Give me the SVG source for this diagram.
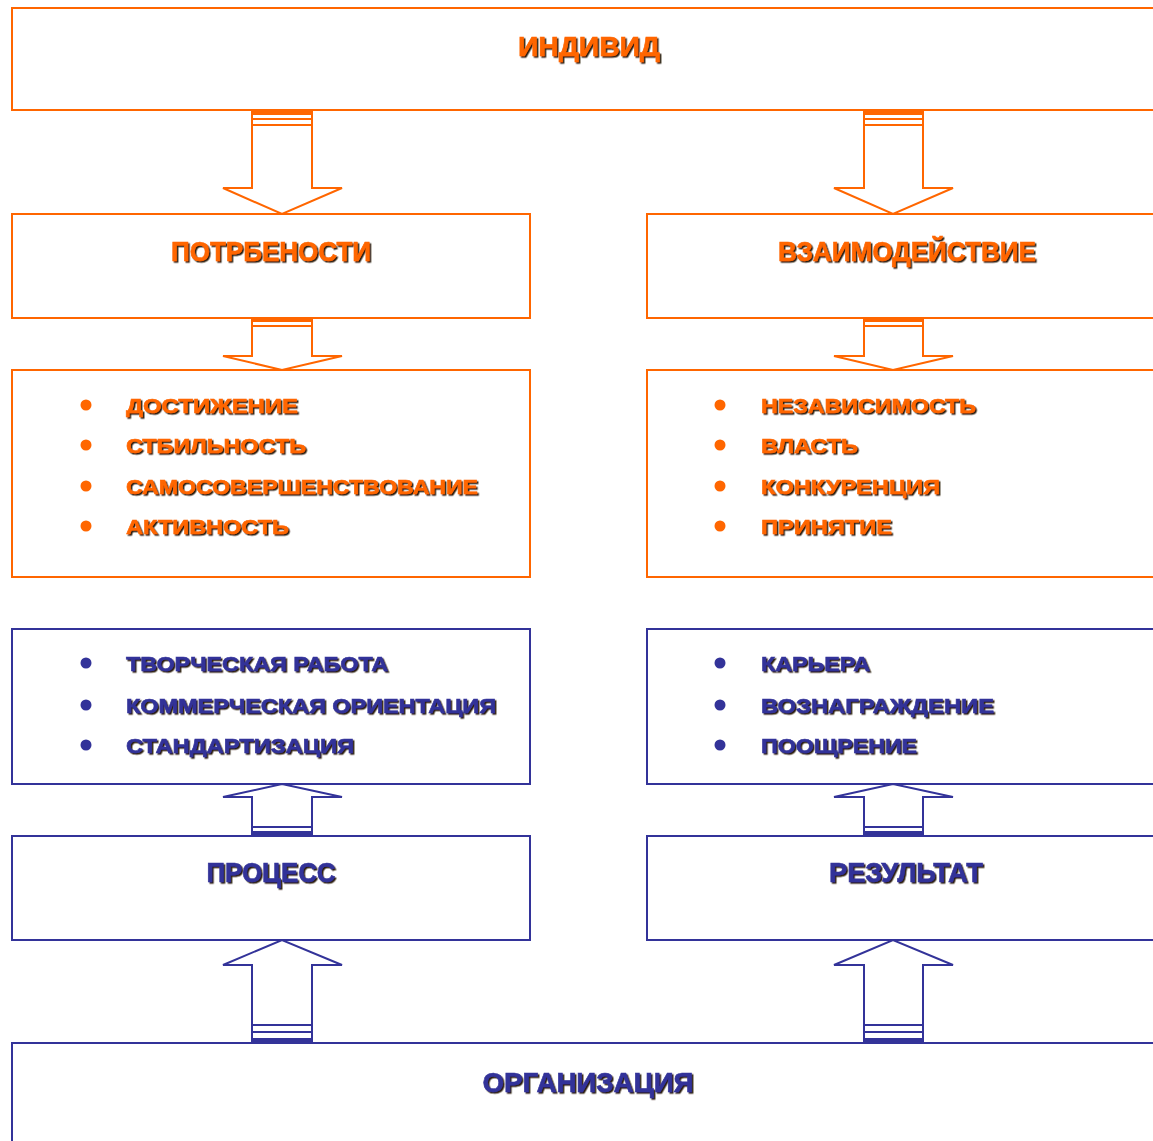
<svg xmlns="http://www.w3.org/2000/svg" width="1153" height="1141" viewBox="0 0 1153 1141">
<style>
.bo{fill:#fff;stroke:#FF6600;stroke-width:2}
.bb{fill:#fff;stroke:#333399;stroke-width:2}
.ao{fill:#fff;stroke:#FF6600;stroke-width:2;stroke-linejoin:miter}
.ab{fill:#fff;stroke:#333399;stroke-width:2;stroke-linejoin:miter}
.lo{stroke:#FF6600;stroke-width:2}
.lb{stroke:#333399;stroke-width:2}
.fo{fill:#FF6600}
.fb{fill:#333399}
text{font-family:"Liberation Sans",Arial,sans-serif;font-weight:bold;filter:url(#sh);stroke-width:0.6}
.t{font-size:27px;text-anchor:middle}
.s{font-size:21px}
.to{fill:#FF6600;stroke:#FF6600}
.tb{fill:#333399;stroke:#333399}
</style>
<defs>
<filter id="sh" x="-5%" y="-20%" width="110%" height="140%">
<feDropShadow dx="1.5" dy="1.5" stdDeviation="0.3" flood-color="#2a1a10" flood-opacity="1"/>
</filter>
</defs>

<g id="node-individ">
<rect class="bo" x="12" y="8" width="1150" height="102"/>
<text class="t to" x="589" y="56" textLength="142" lengthAdjust="spacingAndGlyphs">ИНДИВИД</text>
</g>

<g id="node-potrebnosti">
<rect class="bo" x="12" y="214" width="518" height="104"/>
<text class="t to" x="271" y="261" textLength="200" lengthAdjust="spacingAndGlyphs">ПОТРБЕНОСТИ</text>
</g>

<g id="node-vzaimodeystvie">
<rect class="bo" x="647" y="214" width="515" height="104"/>
<text class="t to" x="907" y="261" textLength="258" lengthAdjust="spacingAndGlyphs">ВЗАИМОДЕЙСТВИЕ</text>
</g>

<g id="node-list-left-orange">
<rect class="bo" x="12" y="370" width="518" height="207"/>
<circle class="fo" cx="86" cy="405" r="5.5"/>
<circle class="fo" cx="86" cy="445" r="5.5"/>
<circle class="fo" cx="86" cy="486" r="5.5"/>
<circle class="fo" cx="86" cy="526" r="5.5"/>
<text class="s to" x="126" y="412.5" textLength="172" lengthAdjust="spacingAndGlyphs">ДОСТИЖЕНИЕ</text>
<text class="s to" x="126" y="452.5" textLength="180" lengthAdjust="spacingAndGlyphs">СТБИЛЬНОСТЬ</text>
<text class="s to" x="126" y="493.5" textLength="352" lengthAdjust="spacingAndGlyphs">САМОСОВЕРШЕНСТВОВАНИЕ</text>
<text class="s to" x="126" y="533.5" textLength="163" lengthAdjust="spacingAndGlyphs">АКТИВНОСТЬ</text>
</g>

<g id="node-list-right-orange">
<rect class="bo" x="647" y="370" width="515" height="207"/>
<circle class="fo" cx="720" cy="405" r="5.5"/>
<circle class="fo" cx="720" cy="445" r="5.5"/>
<circle class="fo" cx="720" cy="486" r="5.5"/>
<circle class="fo" cx="720" cy="526" r="5.5"/>
<text class="s to" x="761" y="412.5" textLength="215" lengthAdjust="spacingAndGlyphs">НЕЗАВИСИМОСТЬ</text>
<text class="s to" x="761" y="452.5" textLength="97" lengthAdjust="spacingAndGlyphs">ВЛАСТЬ</text>
<text class="s to" x="761" y="493.5" textLength="179" lengthAdjust="spacingAndGlyphs">КОНКУРЕНЦИЯ</text>
<text class="s to" x="761" y="533.5" textLength="131" lengthAdjust="spacingAndGlyphs">ПРИНЯТИЕ</text>
</g>

<g id="node-list-left-blue">
<rect class="bb" x="12" y="629" width="518" height="155"/>
<circle class="fb" cx="86" cy="663" r="5.5"/>
<circle class="fb" cx="86" cy="705" r="5.5"/>
<circle class="fb" cx="86" cy="745" r="5.5"/>
<text class="s tb" x="126" y="670.5" textLength="262" lengthAdjust="spacingAndGlyphs">ТВОРЧЕСКАЯ РАБОТА</text>
<text class="s tb" x="126" y="712.5" textLength="370" lengthAdjust="spacingAndGlyphs">КОММЕРЧЕСКАЯ ОРИЕНТАЦИЯ</text>
<text class="s tb" x="126" y="752.5" textLength="228" lengthAdjust="spacingAndGlyphs">СТАНДАРТИЗАЦИЯ</text>
</g>

<g id="node-list-right-blue">
<rect class="bb" x="647" y="629" width="515" height="155"/>
<circle class="fb" cx="720" cy="663" r="5.5"/>
<circle class="fb" cx="720" cy="705" r="5.5"/>
<circle class="fb" cx="720" cy="745" r="5.5"/>
<text class="s tb" x="761" y="670.5" textLength="109" lengthAdjust="spacingAndGlyphs">КАРЬЕРА</text>
<text class="s tb" x="761" y="712.5" textLength="233" lengthAdjust="spacingAndGlyphs">ВОЗНАГРАЖДЕНИЕ</text>
<text class="s tb" x="761" y="752.5" textLength="156" lengthAdjust="spacingAndGlyphs">ПООЩРЕНИЕ</text>
</g>

<g id="node-process">
<rect class="bb" x="12" y="836" width="518" height="104"/>
<text class="t tb" x="271" y="882" textLength="129" lengthAdjust="spacingAndGlyphs">ПРОЦЕСС</text>
</g>

<g id="node-rezultat">
<rect class="bb" x="647" y="836" width="515" height="104"/>
<text class="t tb" x="906" y="882" textLength="154" lengthAdjust="spacingAndGlyphs">РЕЗУЛЬТАТ</text>
</g>

<g id="node-organizatsiya">
<rect class="bb" x="12" y="1043" width="1150" height="110"/>
<text class="t tb" x="588" y="1092" textLength="211" lengthAdjust="spacingAndGlyphs">ОРГАНИЗАЦИЯ</text>
</g>

<g id="connectors">
<g id="arrow-individ-potrebnosti">
<polygon class="ao" points="252,112 312,112 312,188 342,188 282,214 223,188 252,188"/>
<rect class="fo" x="252" y="111" width="60" height="4"/>
<line class="lo" x1="252" y1="119" x2="312" y2="119"/>
<line class="lo" x1="252" y1="125" x2="312" y2="125"/>
</g>
<g id="arrow-individ-vzaimodeystvie">
<polygon class="ao" points="864,112 923,112 923,188 953,188 893,214 834,188 864,188"/>
<rect class="fo" x="864" y="111" width="59" height="4"/>
<line class="lo" x1="864" y1="119" x2="923" y2="119"/>
<line class="lo" x1="864" y1="125" x2="923" y2="125"/>
</g>
<g id="arrow-potrebnosti-list">
<polygon class="ao" points="252,319 312,319 312,356 342,356 282,370 223,356 252,356"/>
<rect class="fo" x="252" y="318" width="60" height="4"/>
<line class="lo" x1="252" y1="326" x2="312" y2="326"/>
</g>
<g id="arrow-vzaimodeystvie-list">
<polygon class="ao" points="864,319 923,319 923,356 953,356 893,370 834,356 864,356"/>
<rect class="fo" x="864" y="318" width="59" height="4"/>
<line class="lo" x1="864" y1="326" x2="923" y2="326"/>
</g>
<g id="arrow-process-list">
<polygon class="ab" points="252,835 312,835 312,797 342,797 282,784 223,797 252,797"/>
<rect class="fb" x="252" y="831" width="60" height="4"/>
<line class="lb" x1="252" y1="827" x2="312" y2="827"/>
</g>
<g id="arrow-rezultat-list">
<polygon class="ab" points="864,835 923,835 923,797 953,797 893,784 834,797 864,797"/>
<rect class="fb" x="864" y="831" width="59" height="4"/>
<line class="lb" x1="864" y1="827" x2="923" y2="827"/>
</g>
<g id="arrow-organizatsiya-process">
<polygon class="ab" points="252,1042 312,1042 312,965 342,965 282,940 223,965 252,965"/>
<rect class="fb" x="252" y="1038" width="60" height="4"/>
<line class="lb" x1="252" y1="1032" x2="312" y2="1032"/>
<line class="lb" x1="252" y1="1025" x2="312" y2="1025"/>
</g>
<g id="arrow-organizatsiya-rezultat">
<polygon class="ab" points="864,1042 923,1042 923,965 953,965 893,940 834,965 864,965"/>
<rect class="fb" x="864" y="1038" width="59" height="4"/>
<line class="lb" x1="864" y1="1032" x2="923" y2="1032"/>
<line class="lb" x1="864" y1="1025" x2="923" y2="1025"/>
</g>
</g>
</svg>
